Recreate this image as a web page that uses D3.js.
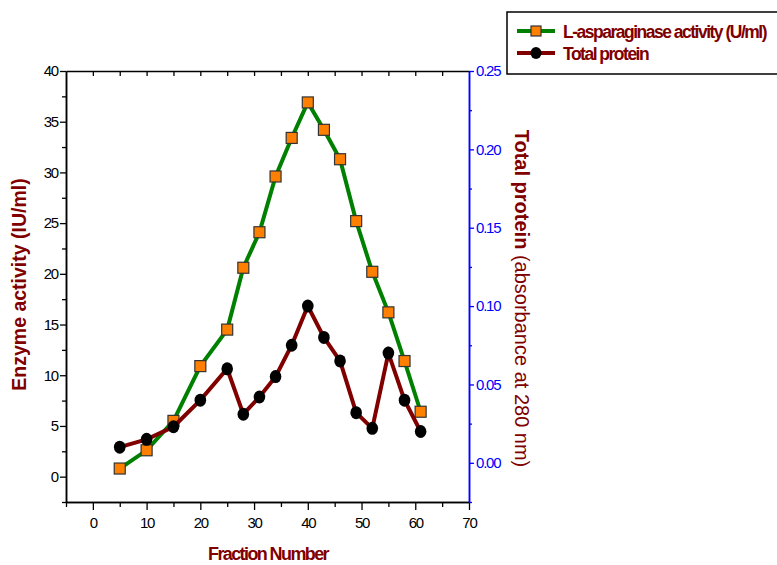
<!DOCTYPE html>
<html>
<head>
<meta charset="utf-8">
<script src="https://cdn.jsdelivr.net/npm/d3@7"></script>
<style>
  body { margin: 0; background: #fff; }
  svg text { font-family: "Liberation Sans", Arial, sans-serif; }
</style>
</head>
<body>
<div id="canvas"></div>
<script>
// fraction numbers
const fractions = [5, 10, 15, 20, 25, 28, 31, 34, 37, 40, 43, 46, 49, 52, 55, 58, 61];
// L-asparaginase activity (U/ml), left axis
const activity = [0.8, 2.6, 5.5, 10.9, 14.5, 20.6, 24.1, 29.6, 33.4, 36.9, 34.2, 31.3, 25.2, 20.2, 16.2, 11.4, 6.4];
// total protein (absorbance at 280 nm), right axis
const protein = [0.010, 0.015, 0.023, 0.040, 0.060, 0.031, 0.042, 0.055, 0.075, 0.100, 0.080, 0.065, 0.032, 0.022, 0.070, 0.040, 0.020];

const xTicks = [0, 10, 20, 30, 40, 50, 60, 70];
const leftTicks = [0, 5, 10, 15, 20, 25, 30, 35, 40];
const rightTicks = [0, 0.05, 0.10, 0.15, 0.20, 0.25];

const w = 777, h = 565;
const margin = { top: 71, left: 66, right: 308, bottom: 63 };
const x0 = margin.left, x1 = w - margin.right;
const y0 = h - margin.bottom, y1 = margin.top;

const svg = d3.select("#canvas").append("svg")
  .attr("width", w).attr("height", h);

const x = d3.scaleLinear().domain([-5, 70]).range([x0, x1]);
const yL = d3.scaleLinear().domain([-2.5, 40]).range([y0, y1]);
const yR = d3.scaleLinear().domain([-0.025, 0.25]).range([y0, y1]);

const darkRed = "#800000";

function styleAxis(g, color){
  g.select(".domain").attr("stroke", color).attr("stroke-width", 1.5);
  g.selectAll(".tick line").attr("stroke", color).attr("stroke-width", 1.3);
  g.selectAll(".tick text").attr("fill", color)
    .style("font-size", "15px").style("letter-spacing", "-1.2px");
}

// bottom axis: minor then major
svg.append("g").attr("transform", `translate(0,${y0})`)
  .call(d3.axisBottom(x).tickValues(d3.range(-5, 70, 10)).tickSize(5).tickFormat("").tickSizeOuter(0))
  .call(g => styleAxis(g, "#000"));
svg.append("g").attr("transform", `translate(0,${y0})`)
  .call(d3.axisBottom(x).tickValues(xTicks).tickSize(8).tickPadding(7).tickSizeOuter(0))
  .call(g => styleAxis(g, "#000"));

// top axis, inward ticks
svg.append("g").attr("transform", `translate(0,${y1})`)
  .call(d3.axisBottom(x).tickValues(d3.range(0, 70, 5)).tickSize(5).tickFormat("").tickSizeOuter(0))
  .call(g => styleAxis(g, "#000"));

// left axis
svg.append("g").attr("transform", `translate(${x0},0)`)
  .call(d3.axisLeft(yL).tickValues(d3.range(-2.5, 40, 5)).tickSize(4).tickFormat("").tickSizeOuter(0))
  .call(g => styleAxis(g, "#000"));
svg.append("g").attr("transform", `translate(${x0},0)`)
  .call(d3.axisLeft(yL).tickValues(leftTicks).tickSize(6).tickPadding(2).tickSizeOuter(0))
  .call(g => styleAxis(g, "#000"));

// right axis (blue)
svg.append("g").attr("transform", `translate(${x1},0)`)
  .call(d3.axisRight(yR).tickValues(d3.range(-0.025, 0.25, 0.05)).tickSize(3).tickFormat("").tickSizeOuter(0))
  .call(g => styleAxis(g, "#0000ff"));
svg.append("g").attr("transform", `translate(${x1},0)`)
  .call(d3.axisRight(yR).tickValues(rightTicks).tickSize(5).tickPadding(2).tickFormat(d3.format(".2f")).tickSizeOuter(0))
  .call(g => styleAxis(g, "#0000ff"));

// series
const actData = fractions.map((f, i) => ({ x: f, y: activity[i] }));
const protData = fractions.map((f, i) => ({ x: f, y: protein[i] }));

svg.append("path").datum(actData)
  .attr("fill", "none").attr("stroke", "#008000").attr("stroke-width", 4)
  .attr("d", d3.line().x(d => x(d.x)).y(d => yL(d.y)));
svg.selectAll(".sq").data(actData).join("rect")
  .attr("x", d => x(d.x) - 5.5).attr("y", d => yL(d.y) - 5.5)
  .attr("width", 11).attr("height", 11)
  .attr("fill", "#ff8000").attr("stroke", "#333").attr("stroke-width", 1.2);

svg.append("path").datum(protData)
  .attr("fill", "none").attr("stroke", darkRed).attr("stroke-width", 4)
  .attr("d", d3.line().x(d => x(d.x)).y(d => yR(d.y)));
svg.selectAll(".dot").data(protData).join("ellipse")
  .attr("cx", d => x(d.x)).attr("cy", d => yR(d.y))
  .attr("rx", 5.8).attr("ry", 6.5).attr("fill", "#000");

// axis titles
svg.append("text")
  .attr("transform", `translate(26,${(y0 + y1) / 2 - 2}) rotate(-90)`)
  .attr("text-anchor", "middle").attr("fill", darkRed)
  .style("font-size", "19.5px").style("font-weight", "bold")
  .text("Enzyme activity (IU/ml)");

svg.append("text")
  .attr("x", 268).attr("y", 560)
  .attr("text-anchor", "middle").attr("fill", darkRed)
  .style("font-size", "18px").style("font-weight", "bold").style("letter-spacing", "-1.6px")
  .text("Fraction Number");

const rt = svg.append("text")
  .attr("transform", `translate(515,${(y0 + y1) / 2 + 12}) rotate(90)`)
  .attr("text-anchor", "middle").attr("fill", darkRed)
  .style("font-size", "20px");
rt.append("tspan").style("font-weight", "bold").text("Total protein");
rt.append("tspan").text(" (absorbance at 280 nm)");

// legend
const lg = svg.append("g");
lg.append("rect").attr("x", 507).attr("y", 12).attr("width", 280).attr("height", 62)
  .attr("fill", "#fff").attr("stroke", "#000").attr("stroke-width", 1.5);
const legendItems = [
  { label: "L-asparaginase activity (U/ml)", color: "#008000", marker: "square", y: 31 },
  { label: "Total protein", color: darkRed, marker: "circle", y: 53 }
];
legendItems.forEach(it => {
  lg.append("line").attr("x1", 517).attr("x2", 555).attr("y1", it.y).attr("y2", it.y)
    .attr("stroke", it.color).attr("stroke-width", 4);
  if (it.marker === "square") {
    lg.append("rect").attr("x", 531).attr("y", it.y - 5).attr("width", 10).attr("height", 10)
      .attr("fill", "#ff8000").attr("stroke", "#333").attr("stroke-width", 1.2);
  } else {
    lg.append("ellipse").attr("cx", 536).attr("cy", it.y).attr("rx", 5.5).attr("ry", 6).attr("fill", "#000");
  }
  lg.append("text").attr("x", 563).attr("y", it.y + 6.5).attr("fill", darkRed)
    .style("font-size", "17.5px").style("font-weight", "bold").style("letter-spacing", "-1.5px")
    .text(it.label);
});
</script>
</body>
</html>
